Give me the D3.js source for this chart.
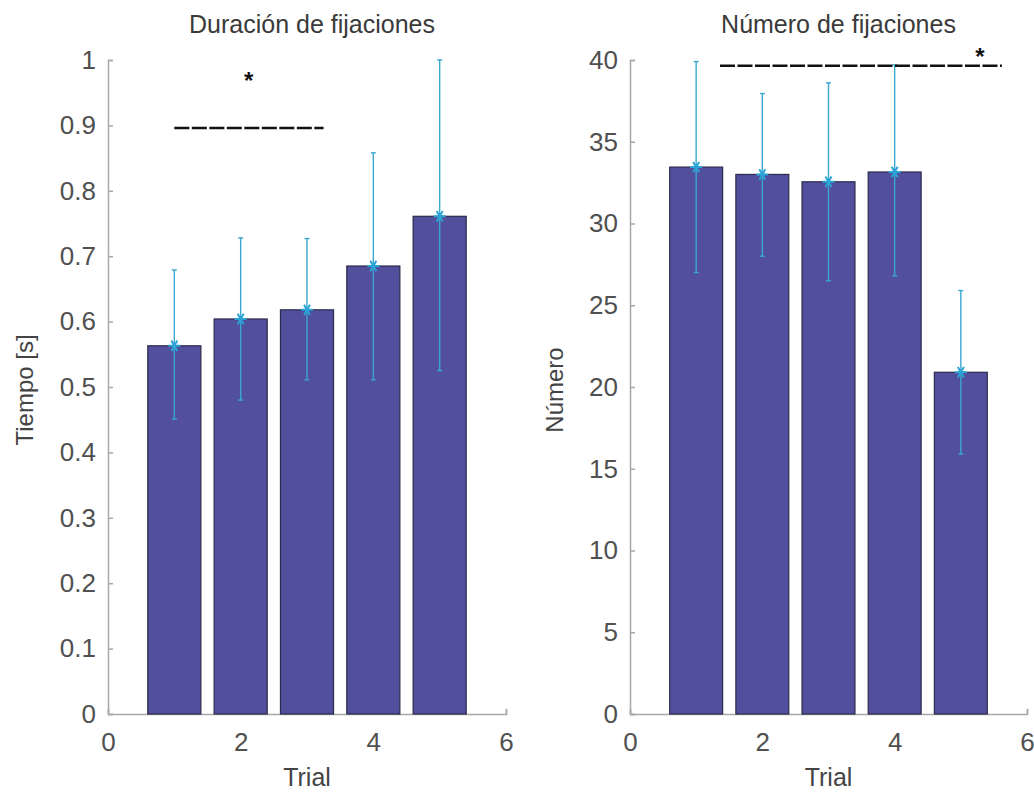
<!DOCTYPE html>
<html>
<head>
<meta charset="utf-8">
<script src="https://cdn.jsdelivr.net/npm/d3@7"></script>
<style>
  body { margin: 0; background: #fff; }
  text { font-family: "Liberation Sans", Arial, sans-serif; }
</style>
</head>
<body>
<script>
// data
const trials = [1, 2, 3, 4, 5];

const durMean  = [0.563, 0.604, 0.618, 0.685, 0.761];
const durUpper = [0.679, 0.728, 0.727, 0.858, 1.0];
const durLower = [0.451, 0.480, 0.511, 0.511, 0.525];

const numMean  = [33.45, 33.0, 32.55, 33.15, 20.9];
const numUpper = [39.9, 37.95, 38.6, 39.7, 25.9];
const numLower = [27.0, 28.0, 26.5, 26.8, 15.9];

const xTicks = [0, 2, 4, 6];
const durTicks = [0, 0.1, 0.2, 0.3, 0.4, 0.5, 0.6, 0.7, 0.8, 0.9, 1];
const numTicks = [0, 5, 10, 15, 20, 25, 30, 35, 40];

// significance marks (data units)
const durSig = {x1: 1, x2: 3.25, y: 0.896, sx: 2.12, sy: 0.975};
const numSig = {x1: 1.36, x2: 5.62, y: 39.65, sx: 5.29, sy: 40.5};

const W = 1034, H = 792;
const plotTop = 60, plotBottom = 714;

const svg = d3.select('body')
  .append('svg')
  .attr('width', W)
  .attr('height', H);

function panel(opt) {
  const g = svg.append('g');

  //x scale
  let xScale = d3.scaleLinear().domain([0, 6]).range([opt.left, opt.right]);
  //y scale
  let yScale = d3.scaleLinear().domain(opt.domain).range([plotBottom, plotTop]);

  let rows = trials.map((t, i) => ({t: t, m: opt.mean[i], hi: opt.upper[i], lo: opt.lower[i]}));
  let bw = xScale(0.8) - xScale(0);

  //x axis (drawn first so the bars hide the ticks under them)
  let xAxis = g.append('g')
    .attr('transform', 'translate(0,' + plotBottom + ')')
    .call(d3.axisTop(xScale)
      .tickValues(xTicks)
      .tickSize(5)
      .tickFormat(d3.format('d')));
  xAxis.selectAll('text')
    .attr('y', 37);

  //bars
  g.selectAll('rect.bar')
    .data(rows)
    .enter()
    .append('rect')
    .attr('class', 'bar')
    .attr('x', d => xScale(d.t) - bw / 2)
    .attr('y', d => yScale(d.m))
    .attr('width', bw)
    .attr('height', d => yScale(0) - yScale(d.m))
    .attr('fill', '#52509d')
    .attr('stroke', '#2b2a4a')
    .attr('stroke-width', 1.2);

  //error bars
  let eb = g.selectAll('g.err')
    .data(rows)
    .enter()
    .append('g')
    .attr('class', 'err')
    .attr('stroke', '#3aa7d0')
    .attr('stroke-width', 1.4);

  eb.append('line')
    .attr('x1', d => xScale(d.t)).attr('x2', d => xScale(d.t))
    .attr('y1', d => yScale(d.lo)).attr('y2', d => yScale(d.hi));
  eb.append('line')
    .attr('x1', d => xScale(d.t) - 2.5).attr('x2', d => xScale(d.t) + 2.5)
    .attr('y1', d => yScale(d.hi)).attr('y2', d => yScale(d.hi));
  eb.append('line')
    .attr('x1', d => xScale(d.t) - 2.5).attr('x2', d => xScale(d.t) + 2.5)
    .attr('y1', d => yScale(d.lo)).attr('y2', d => yScale(d.lo));

  // asterisk marker at the mean
  eb.append('path')
    .attr('d', d => {
      let cx = xScale(d.t), cy = yScale(d.m), r = 6;
      let p = '';
      [0, 60, 120].forEach(a => {
        let rad = a * Math.PI / 180;
        let dx = r * Math.cos(rad), dy = r * Math.sin(rad);
        p += 'M' + (cx - dx) + ',' + (cy - dy) + 'L' + (cx + dx) + ',' + (cy + dy);
      });
      return p;
    })
    .attr('stroke', '#2aa3d6')
    .attr('stroke-width', 2);

  //y axis
  let yAxis = g.append('g')
    .attr('transform', 'translate(' + opt.left + ',0)')
    .call(d3.axisRight(yScale)
      .tickValues(opt.ticks)
      .tickSize(5)
      .tickFormat(opt.fmt));
  yAxis.selectAll('text')
    .attr('x', -12)
    .attr('text-anchor', 'end');

  [yAxis, xAxis].forEach(ax => {
    ax.select('.domain').attr('stroke', '#a8a8a8').attr('stroke-width', 1.5);
    ax.selectAll('.tick line').attr('stroke', '#a8a8a8').attr('stroke-width', 1.5);
    ax.selectAll('text')
      .attr('fill', '#505050')
      .style('font-size', '26px')
      .style('font-family', '"Liberation Sans", Arial, sans-serif');
  });

  //significance line
  g.append('line')
    .attr('x1', xScale(opt.sig.x1)).attr('x2', xScale(opt.sig.x2))
    .attr('y1', yScale(opt.sig.y)).attr('y2', yScale(opt.sig.y))
    .attr('stroke', '#111')
    .attr('stroke-width', 2.6)
    .attr('stroke-dasharray', '15,2.5');
  g.append('text')
    .attr('x', xScale(opt.sig.sx))
    .attr('y', yScale(opt.sig.sy) + 13)
    .attr('text-anchor', 'middle')
    .style('font-size', '24px')
    .style('font-weight', 'bold')
    .attr('fill', '#111')
    .text('*');

  //title
  g.append('text')
    .attr('x', (opt.left + opt.right) / 2 + opt.titleShift)
    .attr('y', 33)
    .attr('text-anchor', 'middle')
    .style('font-size', '25px')
    .attr('fill', '#3a3a3a')
    .text(opt.title);

  //x label
  g.append('text')
    .attr('x', xScale(3))
    .attr('y', 786)
    .attr('text-anchor', 'middle')
    .style('font-size', '25px')
    .attr('fill', '#444')
    .text('Trial');

  //y label
  g.append('text')
    .attr('transform', 'translate(' + opt.ylabX + ',' + ((plotTop + plotBottom) / 2 + 3) + ') rotate(-90)')
    .attr('text-anchor', 'middle')
    .style('font-size', '24px')
    .attr('fill', '#444')
    .text(opt.ylab);
}

panel({
  left: 108, right: 506, domain: [0, 1],
  mean: durMean, upper: durUpper, lower: durLower,
  ticks: durTicks, fmt: d3.format('~g'), sig: durSig,
  title: 'Duración de fijaciones', titleShift: 5,
  ylab: 'Tiempo [s]', ylabX: 33
});

panel({
  left: 630, right: 1027, domain: [0, 40],
  mean: numMean, upper: numUpper, lower: numLower,
  ticks: numTicks, fmt: d3.format('d'), sig: numSig,
  title: 'Número de fijaciones', titleShift: 10,
  ylab: 'Número', ylabX: 563
});
</script>
</body>
</html>
